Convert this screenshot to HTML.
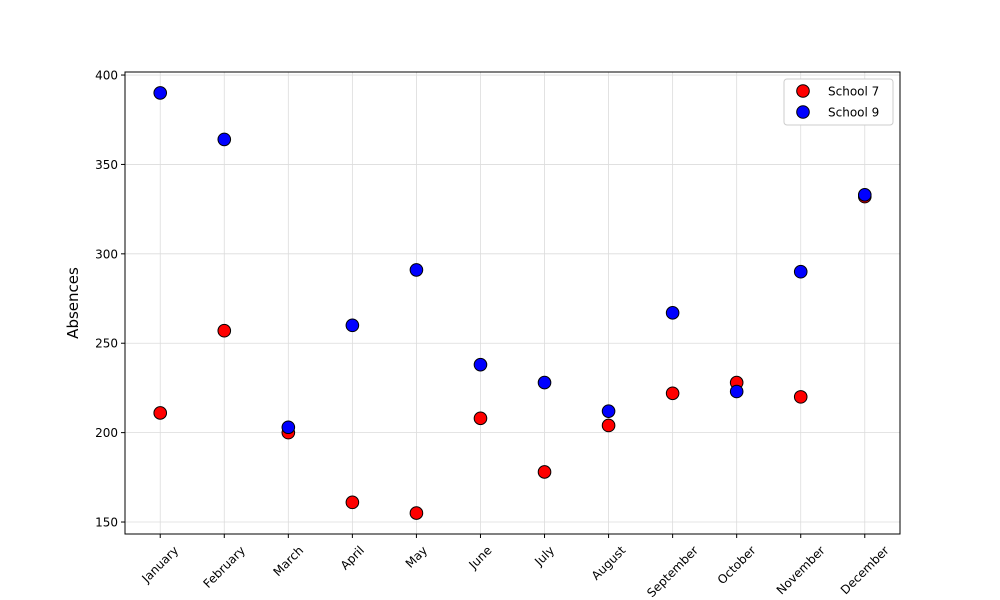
<!DOCTYPE html>
<html><head><meta charset="utf-8"><style>body{margin:0;background:#fff}svg{display:block;font-family:"DejaVu Sans","Liberation Sans",sans-serif}</style></head>
<body>
<svg id="chart" width="1000" height="600"></svg>
<script>
const months=["January","February","March","April","May","June","July","August","September","October","November","December"];
const school7=[211,257,200,161,155,208,178,204,222,228,220,332];
const school9=[390,364,203,260,291,238,228,212,267,223,290,333];
const yTicks=[150,200,250,300,350,400];
const L=125,R=900,T=72,B=534,yMin=143.3,yMax=401.7,xMin=-0.55,xMax=11.55;
const X=i=>L+(i-xMin)/(xMax-xMin)*(R-L);
const Y=v=>B-(v-yMin)/(yMax-yMin)*(B-T);
const svg=document.getElementById('chart');const NS='http://www.w3.org/2000/svg';
function mk(t,a,p){const e=document.createElementNS(NS,t);for(const k in a)e.setAttribute(k,a[k]);(p||svg).appendChild(e);return e;}
const grid=mk('g',{});


months.forEach((m,i)=>{const x=X(i);
mk('line',{x1:x,x2:x,y1:T,y2:B,stroke:'#dcdcdc','stroke-width':0.8},grid);
mk('line',{x1:x,x2:x,y1:B,y2:B+4,stroke:'#000'});
const t=mk('text',{x:x,y:0,'font-size':12,'text-anchor':'middle','dominant-baseline':'central'});t.textContent=m;
const w=t.getComputedTextLength();const h=(w+12)*0.7071;const cy=B+10+h/2;
t.setAttribute('y',cy);t.setAttribute('transform',`rotate(-45 ${x} ${cy})`);

});
yTicks.forEach(v=>{const y=Y(v);
mk('line',{x1:L,x2:R,y1:y,y2:y,stroke:'#dcdcdc','stroke-width':0.8},grid);
mk('line',{x1:L-4,x2:L,y1:y,y2:y,stroke:'#000'});
const t=mk('text',{x:L-7,y:y+4.5,'font-size':12,'text-anchor':'end'});t.textContent=v;

});
const yl=mk('text',{x:78,y:(T+B)/2,'font-size':15,'text-anchor':'middle',transform:`rotate(-90 78 ${(T+B)/2})`});yl.textContent='Absences';


function series(d,c,n){const g=mk('g',{});


d.forEach((v,i)=>{const p=mk('circle',{cx:X(i),cy:Y(v),r:6.3,fill:c,stroke:'#000','stroke-width':1},g);

});}
series(school7,'#ff0000','series-school-7');
series(school9,'#0000ff','series-school-9');
const fr=mk('rect',{x:L,y:T,width:R-L,height:B-T,fill:'none',stroke:'#000','stroke-width':1});


const lg=mk('g',{});


mk('rect',{x:784,y:79,width:109,height:46,rx:3,fill:'#fff',stroke:'#ccc'},lg);
[['School 7','#ff0000',91],['School 9','#0000ff',112]].forEach(([n,c,y])=>{
mk('circle',{cx:803,cy:y,r:6.3,fill:c,stroke:'#000'},lg);
const t=mk('text',{x:828,y:y+4.5,'font-size':12},lg);t.textContent=n;

});
</script>
</body></html>
